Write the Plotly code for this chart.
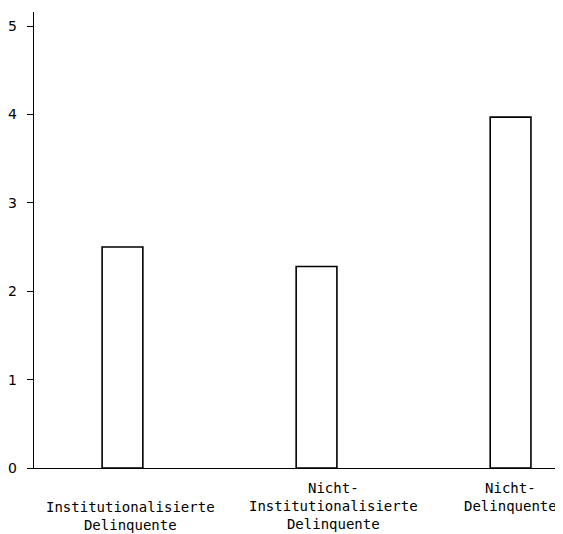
import plotly.graph_objects as go

categories = ["Institutionalisierte<br>Delinquente",
              "Nicht-<br>Institutionalisierte<br>Delinquente",
              "Nicht-<br>Delinquente"]
values = [2.5, 2.28, 3.97]
y_ticks = [0, 1, 2, 3, 4, 5]

x_pos = list(range(len(categories)))
# label placement styling (pixel offsets)
label_dx = [8, 17, 0]
label_dy = [-29, -10, -10]

fig = go.Figure()
fig.add_trace(go.Bar(
    x=x_pos, y=values, width=0.21,
    marker=dict(color="white", line=dict(color="black", width=1.6)),
    showlegend=False,
))

label_font = dict(family="DejaVu Sans Mono", size=14, color="black")
tick_font = dict(family="DejaVu Sans", size=14, color="black")

for xp, txt, dx, dy in zip(x_pos, categories, label_dx, label_dy):
    fig.add_annotation(
        x=xp, xref="x", y=0, yref="paper",
        text=txt, showarrow=False,
        xanchor="center", yanchor="top", align="center",
        xshift=dx, yshift=dy, font=label_font,
    )

# page body has an 8px default margin; figure size compensates for it
fig.update_layout(
    width=555, height=526,
    margin=dict(l=26, r=1, t=4, b=66),
    paper_bgcolor="white", plot_bgcolor="white",
    xaxis=dict(
        range=[-0.456, 2.265],
        showticklabels=False,
        showline=True, linecolor="black", linewidth=1.4,
        ticks="", showgrid=False, zeroline=False,
        automargin=False,
    ),
    yaxis=dict(
        range=[0, 5.16],
        tickmode="array", tickvals=y_ticks,
        showline=True, linecolor="black", linewidth=1.4,
        ticks="outside", ticklen=6, tickwidth=1, tickcolor="black",
        ticklabelstandoff=7,
        showgrid=False, zeroline=False,
        tickfont=tick_font, automargin=False,
    ),
)

fig.write_html("out.html")
